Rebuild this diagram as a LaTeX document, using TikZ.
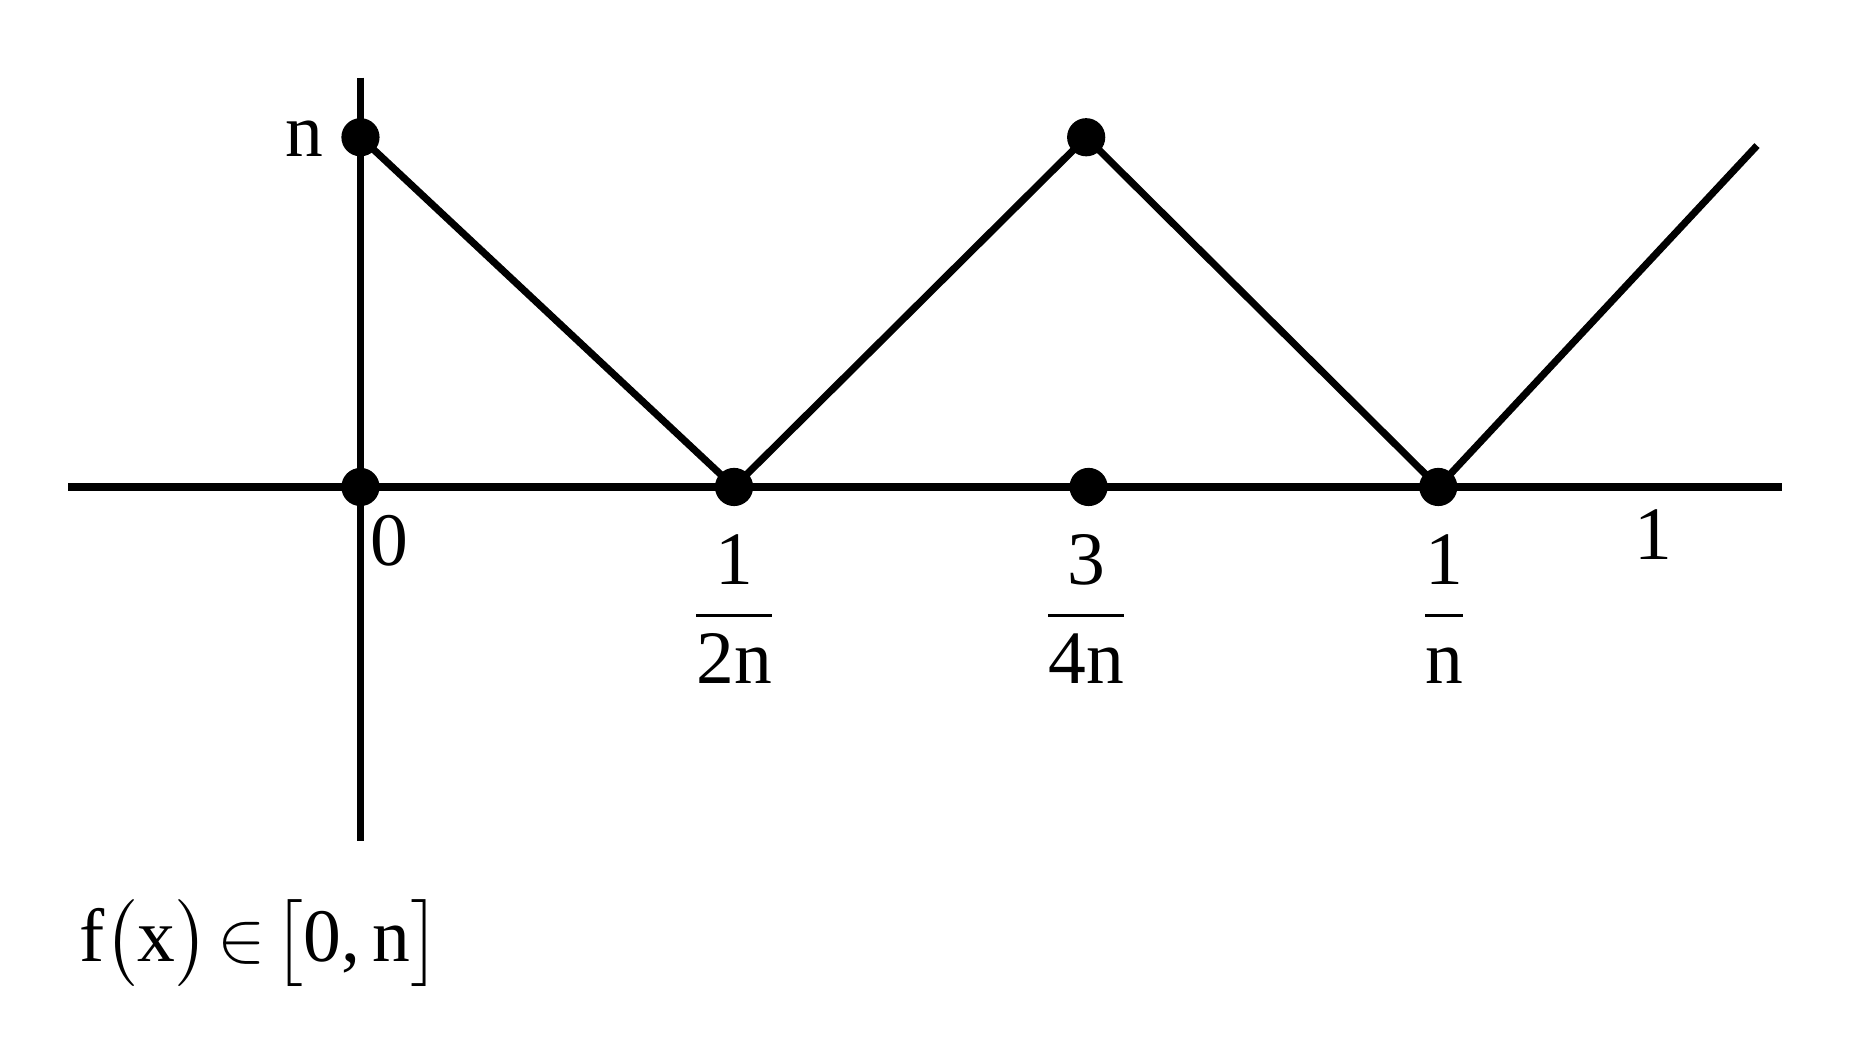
\documentclass[tikz,border=0pt]{standalone}
\usepackage{amsmath}
\usepackage{fontspec}
\setmainfont{Liberation Serif}
\usetikzlibrary{positioning}
\begin{document}
\begin{tikzpicture}[line width=1.7pt,
    dot/.style={circle,fill,inner sep=0pt,minimum size=0.32cm},
    lbl/.style={font=\fontsize{18}{22}\selectfont}]
        \useasboundingbox (0,0) rectangle (15.6,8.78);
        % axes
        \coordinate (xl) at (0.57,4.70);
        \coordinate (xr) at (14.93,4.70);
        \coordinate (yt) at (3.02,8.13);
        \coordinate (yb) at (3.02,1.73);
        \draw (xl) -- (xr);
        \draw (yt) -- (yb);
        % zig-zag
        \node[dot] (p0) at (3.02,7.63) {};
        \node[dot] (p1) at (6.15,4.70) {};
        \node[dot] (p2) at (9.10,7.63) {};
        \node[dot] (p3) at (12.05,4.70) {};
        \coordinate (p4) at (14.72,7.56);
        \node[dot] (o) at (3.02,4.70) {};
        \node[dot] (q) at (9.12,4.70) {};
        \draw (p0.center) -- (p1.center) -- (p2.center) -- (p3.center) -- (p4);
        % labels
        \node[lbl] (ln) at (2.55,7.62) {n};
        \node[lbl] (l0) at (3.26,4.25) {0};
        \node[lbl] (l1) at (6.15,3.68) {$\dfrac{\text{1}}{\text{2n}}$};
        \node[lbl] (l2) at (9.10,3.68) {$\dfrac{\text{3}}{\text{4n}}$};
        \node[lbl] (l3) at (12.10,3.68) {$\dfrac{\text{1}}{\text{n}}$};
        \node[lbl] (l4) at (13.85,4.30) {1};
        \node[lbl,anchor=west] (lf) at (0.52,0.88) {f$\bigl($x$\bigr)\!\in\!\bigl[$0,\,n$\bigr]$};
\end{tikzpicture}
\end{document}
